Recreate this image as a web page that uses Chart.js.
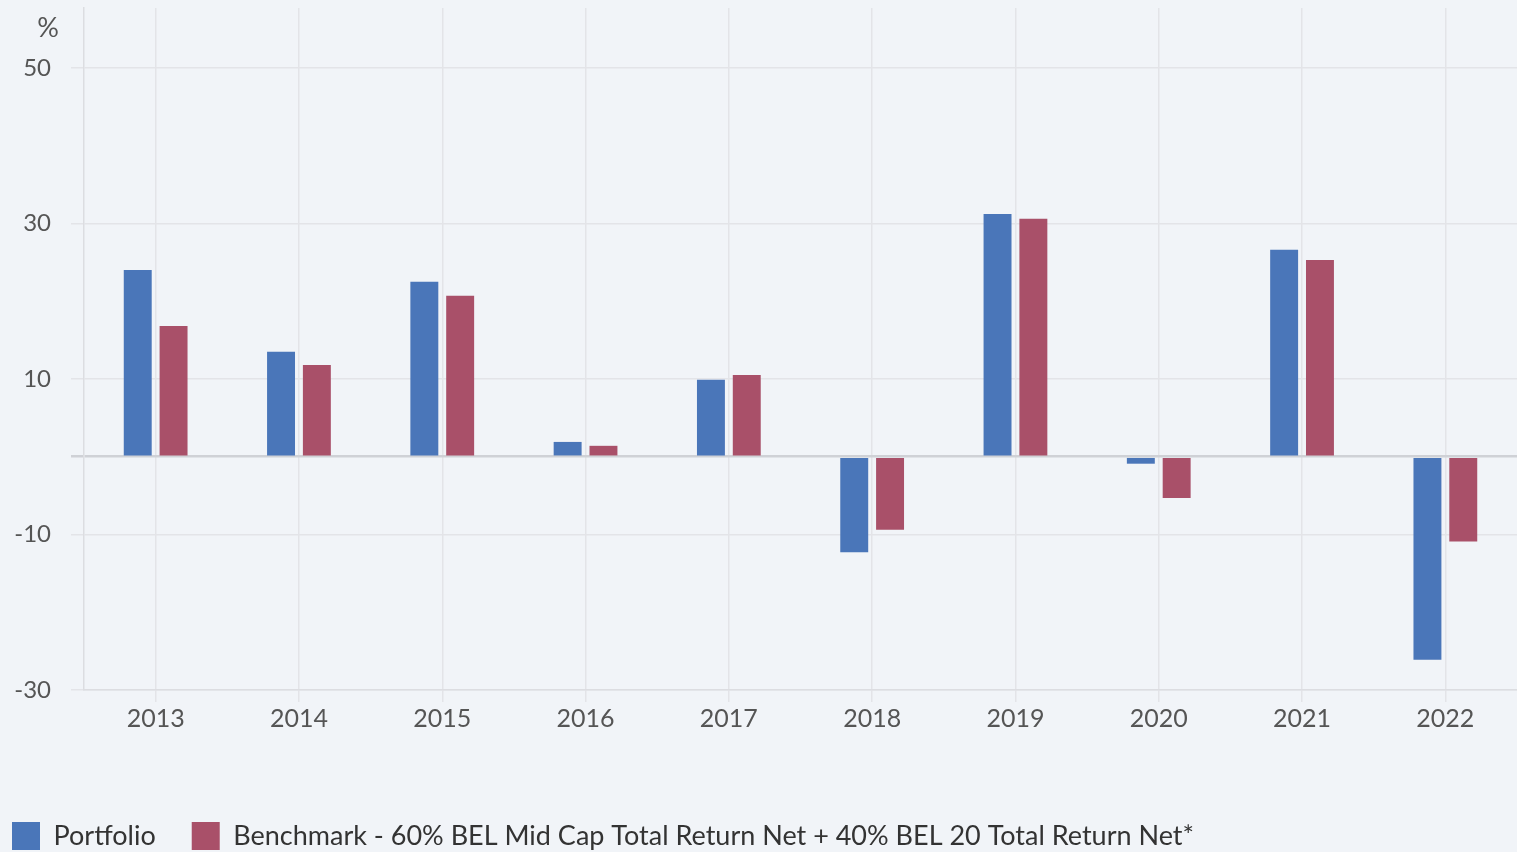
<!DOCTYPE html>
<html><head><meta charset="utf-8">
<script src="https://cdn.jsdelivr.net/npm/chart.js@4.4.0/dist/chart.umd.min.js"></script>
<style>html,body{margin:0;padding:0;background:#f1f4f8;overflow:hidden}#wrap{width:1517px;height:852px;position:relative}</style>
</head><body><div id="wrap"><canvas id="c"></canvas></div>
<script>
const categories = ['2013','2014','2015','2016','2017','2018','2019','2020','2021','2022'];
const portfolio = [24.0, 13.5, 22.5, 1.9, 9.9, -12.3, 31.2, -0.9, 26.6, -26.1];
const benchmark = [16.8, 11.8, 20.7, 1.4, 10.5, -9.4, 30.6, -5.3, 25.3, -10.9];
const yTicks = [-30, -10, 0, 10, 30, 50];
const seriesNames = ['Portfolio', 'Benchmark - 60% BEL Mid Cap Total Return Net + 40% BEL 20 Total Return Net*'];
const unitLabel = '%';

const FONT = 'Lato, "Noto Sans", sans-serif';

const unitPlugin = {
  id: 'unit',
  afterDraw(chart) {
    const y = chart.scales.y;
    const ctx = chart.ctx;
    ctx.save();
    ctx.font = '27px ' + FONT;
    ctx.fillStyle = '#555';
    ctx.textAlign = 'right';
    ctx.textBaseline = 'alphabetic';
    ctx.fillText(unitLabel, y.right - 25, 37);
    ctx.restore();
  }
};

new Chart(document.getElementById('c'), {
  type: 'bar',
  data: {
    labels: categories,
    datasets: [
      { label: seriesNames[0], data: portfolio, backgroundColor: '#4a76b9', categoryPercentage: 0.5, barPercentage: 0.78 },
      { label: seriesNames[1], data: benchmark, backgroundColor: '#a95069', categoryPercentage: 0.5, barPercentage: 0.78 }
    ]
  },
  options: {
    responsive: true,
    maintainAspectRatio: false,
    animation: false,
    layout: { padding: { top: 8, left: -24, right: 0, bottom: -8 } },
    plugins: {
      tooltip: { enabled: false },
      legend: {
        position: 'bottom',
        align: 'start',
        labels: {
          boxWidth: 28, boxHeight: 28, padding: 36,
          color: '#333',
          font: { family: FONT, size: 27 }
        }
      }
    },
    scales: {
      x: {
        grid: { offset: false, color: '#e3e4e8', lineWidth: 1.5, tickLength: 12 },
        border: { display: true, color: '#dcdde1', width: 1.5 },
        ticks: { color: '#555', font: { family: FONT, size: 25 }, padding: 2, maxRotation: 0 },
        afterFit(scale) { scale.height = 96; }
      },
      y: {
        min: -30, max: 57.7,
        afterBuildTicks(scale) { scale.ticks = yTicks.map(v => ({ value: v })); },
        afterFit(scale) { scale.width = 108; scale.paddingTop = 0; scale.paddingBottom = 0; },
        grid: {
          color: c => (c.tick && c.tick.value === 0) ? '#cfd1d6' : '#e3e4e8',
          lineWidth: c => (c.tick && c.tick.value === 0) ? 2.5 : 1.5,
          tickLength: 13
        },
        border: { display: true, color: '#dcdde1', width: 1.5 },
        ticks: {
          color: '#555', font: { family: FONT, size: 24 }, padding: 20,
          callback: v => v === 0 ? '' : v
        }
      }
    }
  },
  plugins: [unitPlugin]
});
</script>
</body></html>
